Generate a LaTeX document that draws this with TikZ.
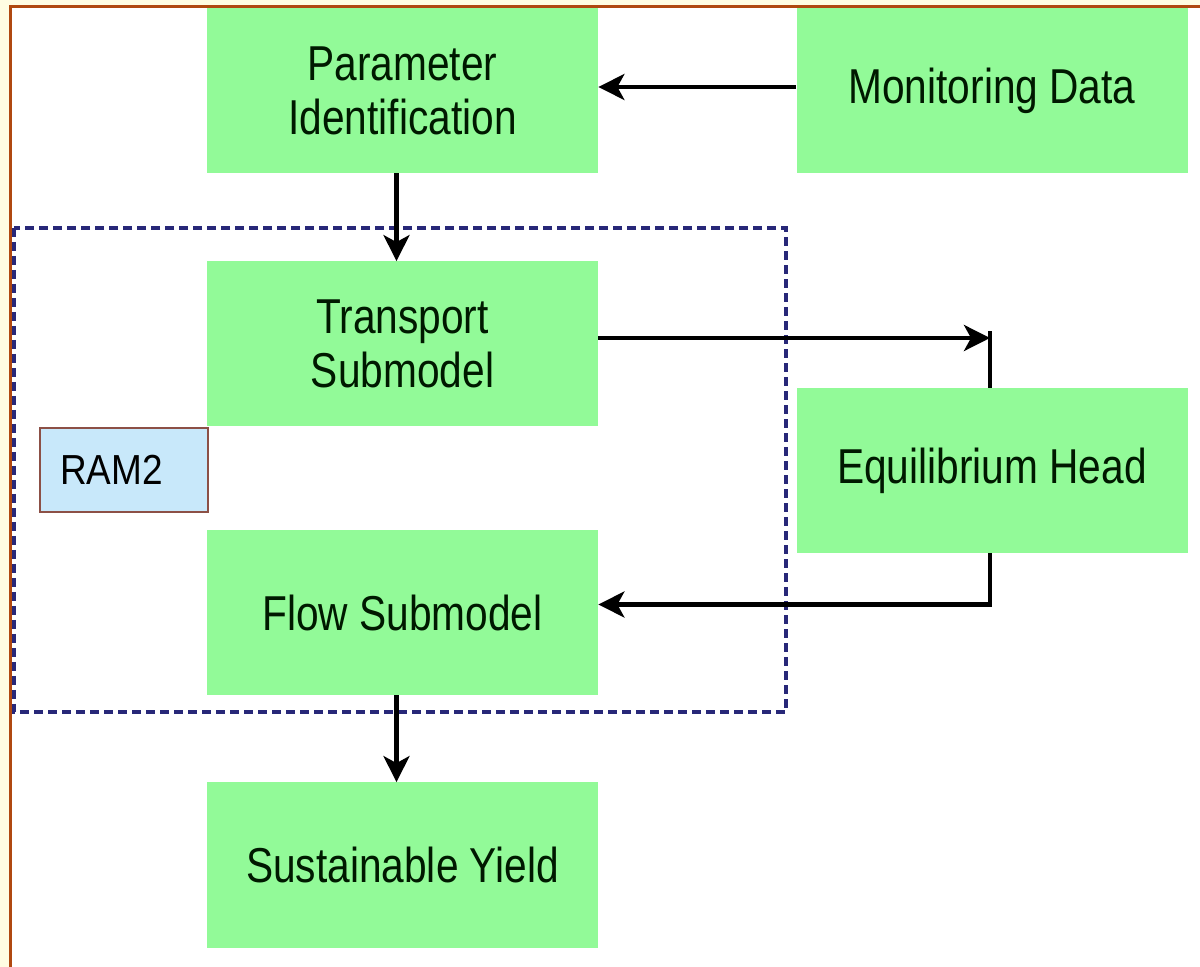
\documentclass[tikz,border=0pt]{standalone}
\usepackage{fontspec}
\setmainfont{Liberation Sans}[FakeStretch=0.83]
\newfontfamily\ramfont{Liberation Sans}[FakeStretch=0.88]
\usetikzlibrary{arrows.meta}
\definecolor{boxgreen}{RGB}{146,250,152}
\definecolor{cream}{RGB}{255,252,226}
\definecolor{framebrown}{RGB}{176,72,16}
\definecolor{dashnavy}{RGB}{40,40,120}
\definecolor{ramblue}{RGB}{200,232,250}
\definecolor{rambrd}{RGB}{140,80,70}
\tikzset{
  gbox/.style={rectangle, fill=boxgreen, draw=none, minimum width=195.5pt, minimum height=82.5pt,
    inner sep=0pt, align=center, font=\fontsize{24.5}{27}\selectfont, text=black!90!green},
  conn/.style={line width=2.1pt, draw=black, -{Stealth[length=13pt,width=13pt,inset=3.5pt]}},
  plain/.style={line width=1.6pt, draw=black},
  ram/.style={rectangle, fill=ramblue, draw=rambrd, line width=0.8pt, minimum width=84pt, minimum height=42pt,
    inner sep=0pt, text width=64pt, align=left, font=\ramfont\fontsize{21}{24}\selectfont}
}
\begin{document}
\begin{tikzpicture}[x=0.5pt,y=-0.5pt]
\useasboundingbox (0,0) rectangle (1200,967);
\fill[cream] (0,0) rectangle (1200,967);
\fill[white] (10,7) rectangle (1200,967);
\draw[framebrown, line width=1.5pt] (10,967) -- (10,7) -- (1200,7);
% dashed container
\draw[dashnavy, line width=1.7pt, dash pattern=on 4.5pt off 2.5pt] (14,228) rectangle (786,712);
% boxes
\node[gbox] (param) at (402.5,90.5) {Parameter\\Identification};
\node[gbox] (mon) at (992,90.5) {Monitoring Data};
\node[gbox] (trans) at (402.5,344) {Transport\\Submodel};
\node[gbox] (eq) at (992,470.5) {Equilibrium Head};
\node[gbox] (flow) at (402.5,612.5) {Flow Submodel};
\node[gbox] (sy) at (402.5,865) {Sustainable Yield};
\node[ram] (ram) at (124,470) {RAM2};
% connectors
\coordinate (j1) at (990,338);
\coordinate (j2) at (990,331);
\draw[conn] (mon.west |- 0,87) -- (param.east |- 0,87);
\draw[conn] ([xshift=-3pt]param.south) -- ([xshift=-3pt]trans.north);
\draw[conn] (trans.east |- j1) -- (j1);
\draw[plain] ([xshift=-1pt]eq.north) -- (j2);
\draw[conn] ([xshift=-1pt]eq.south) |- ([yshift=4pt]flow.east);
\draw[conn] ([xshift=-3pt]flow.south) -- ([xshift=-3pt]sy.north);
\end{tikzpicture}
\end{document}
